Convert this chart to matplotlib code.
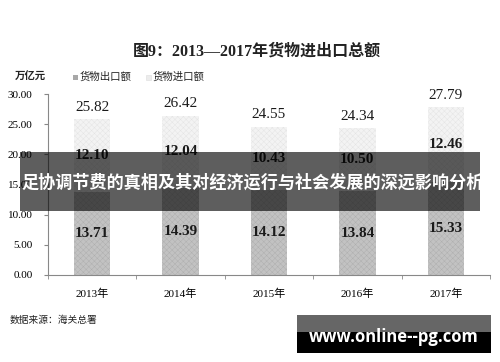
import matplotlib
matplotlib.use("Agg")
import matplotlib.pyplot as plt
from matplotlib.patches import Rectangle
import numpy as np

plt.rcParams['hatch.linewidth'] = 0.3

years = ["2013年", "2014年", "2015年", "2016年", "2017年"]
exports = [13.71, 14.39, 14.12, 13.84, 15.33]
imports = [12.10, 12.04, 10.43, 10.50, 12.46]
totals = [25.82, 26.42, 24.55, 24.34, 27.79]
yticks = [0, 5, 10, 15, 20, 25, 30]

SER = ['Liberation Serif', 'Noto Sans CJK SC']
SANS = ['Noto Sans CJK SC', 'DejaVu Sans']

fig = plt.figure(figsize=(5, 3.62), dpi=100)
ax = fig.add_axes([0.096, 0.241, 0.884, 0.499])

x = np.arange(len(years))
w = 0.41
ax.bar(x, exports, w, color='#c2c2c2', edgecolor='#adadad', hatch='xxxxxx', linewidth=0)
ax.bar(x, imports, w, bottom=exports, color='#f3f3f3', edgecolor='#e3e3e3', hatch='xxxxxx', linewidth=0)

for i in range(len(years)):
    ax.text(x[i], exports[i] / 2, f"{exports[i]:.2f}", ha='center', va='center',
            fontsize=11, fontweight='bold', family=SER, color='#1a1a1a')
    ax.text(x[i], exports[i] + imports[i] / 2, f"{imports[i]:.2f}", ha='center', va='center',
            fontsize=11, fontweight='bold', family=SER, color='#1a1a1a')
    ax.text(x[i], totals[i] + 2.0, f"{totals[i]:.2f}", ha='center', va='center',
            fontsize=11, family=SER, color='#1a1a1a')

ax.set_xlim(-0.5, len(years) - 0.5)
ax.set_ylim(0, 30)
ax.set_yticks(yticks)
ax.set_yticklabels([f"{v:.2f}" for v in yticks], family=SER, fontsize=8)
ax.set_xticks(x)
ax.set_xticklabels(years, family=SER, fontsize=8)
ax.set_xticks(np.arange(len(years) + 1) - 0.5, minor=True)
ax.tick_params(axis='x', which='major', length=0, pad=10)
ax.tick_params(axis='x', which='minor', length=3, color='#888888')
ax.tick_params(axis='y', length=3, color='#888888', pad=8)
for s in ['top', 'right']:
    ax.spines[s].set_visible(False)
for s in ['left', 'bottom']:
    ax.spines[s].set_color('#888888')
    ax.spines[s].set_linewidth(0.8)

# title
fig.text(0.514, 1 - 52 / 362, "图9：2013—2017年货物进出口总额", ha='center', va='center',
         fontsize=11.5, fontweight='bold', family=SER, color='#222222')
fig.text(30 / 500, 1 - 77 / 362, "万亿元", ha='center', va='center', fontsize=7.5,
         fontweight='bold', family=SANS, color='#222222')
# legend
fig.patches.append(Rectangle((73 / 500, 1 - 80 / 362), 5 / 500, 5 / 362, transform=fig.transFigure,
                             facecolor='#a8a8a8', edgecolor='none'))
fig.text(80 / 500, 1 - 77 / 362, "货物出口额", ha='left', va='center', fontsize=7.5,
         family=SANS, color='#222222')
fig.patches.append(Rectangle((146 / 500, 1 - 80 / 362), 5 / 500, 5 / 362, transform=fig.transFigure,
                             facecolor='#ececec', edgecolor='#dddddd', linewidth=0.4))
fig.text(153 / 500, 1 - 77 / 362, "货物进口额", ha='left', va='center', fontsize=7.5,
         family=SANS, color='#222222')

fig.text(10 / 500, 1 - 320 / 362, "数据来源：海关总署", ha='left', va='center', fontsize=7,
         family=SANS, color='#222222')

# banner overlay
fig.patches.append(Rectangle((20 / 500, 1 - 211 / 362), 460 / 500, 59 / 362, transform=fig.transFigure,
                             facecolor='black', alpha=0.63, edgecolor='none', zorder=10))
fig.text(21 / 500, 1 - 183 / 362, "足协调节费的真相及其对经济运行与社会发展的深远影响分析",
         ha='left', va='center', fontsize=12.3, fontweight='bold', family=SANS,
         color='white', zorder=11)

# watermark box
fig.patches.append(Rectangle((297 / 500, 1 - 332 / 362), 194 / 500, 17 / 362, transform=fig.transFigure,
                             facecolor='#666666', edgecolor='none', zorder=10))
fig.patches.append(Rectangle((297 / 500, 1 - 353 / 362), 194 / 500, 21 / 362, transform=fig.transFigure,
                             facecolor='black', edgecolor='none', zorder=10))
fig.text(394 / 500, 1 - 337 / 362, "www.online--pg.com", ha='center', va='center',
         fontsize=12, fontweight='bold', family=['Open Sans', 'DejaVu Sans'],
         color='white', zorder=11)

fig.savefig("out.png", dpi=100)
